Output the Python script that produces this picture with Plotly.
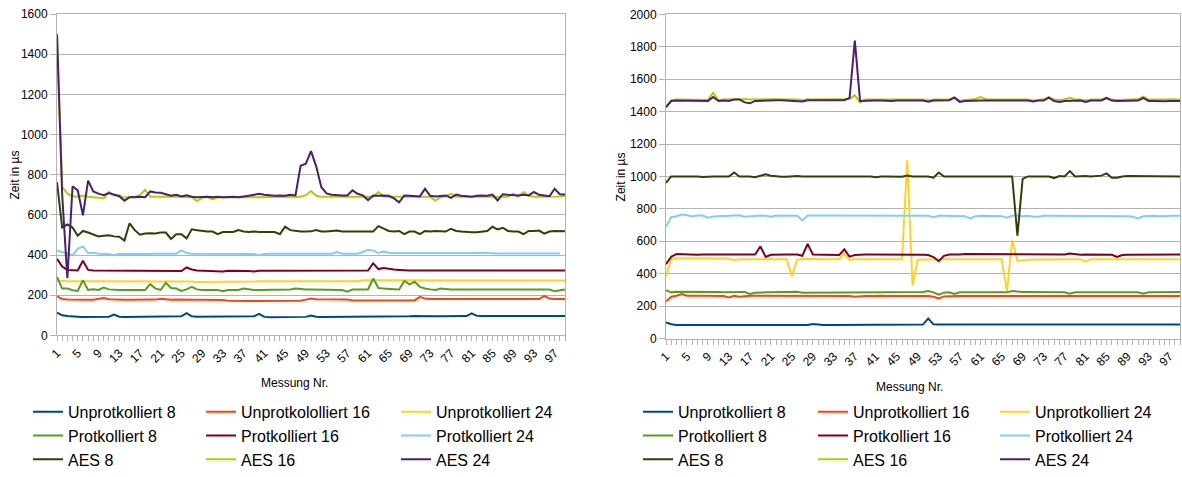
import plotly.graph_objects as go

# ---------------- data ----------------
measurement = list(range(1, 100))
x_tick_labels = list(range(1, 98, 4))

names_left = ["Unprotkolliert 8", "Unprotkololliert 16", "Unprotkolliert 24",
              "Protkolliert 8", "Protkolliert 16", "Protkolliert 24",
              "AES 8", "AES 16", "AES 24"]
names_right = ["Unprotkolliert 8", "Unprotkolliert 16", "Unprotkolliert 24",
               "Protkolliert 8", "Protkolliert 16", "Protkolliert 24",
               "AES 8", "AES 16", "AES 24"]

# left chart
L_U8 = [113, 100, 96, 93, 93, 92, 92, 93, 93, 92,
        93, 104, 93, 92, 92, 93, 93, 93, 93, 93,
        93, 93, 93, 93, 95, 111, 95, 93, 93, 93,
        93, 93, 93, 93, 93, 93, 93, 93, 95, 107,
        92, 90, 90, 90, 90, 90, 90, 90, 92, 99,
        93, 92, 92, 95, 95, 95, 95, 95, 95, 95,
        95, 95, 95, 95, 95, 95, 95, 95, 95, 96,
        95, 95, 95, 95, 95, 95, 95, 95, 95, 96,
        110, 97, 96, 96, 96, 96, 96, 96, 96, 96,
        96, 96, 96, 96, 96, 96, 97, 96, 96]
L_U16 = [194, 181, 178, 177, 177, 177, 177, 177, 180, 186,
         180, 178, 177, 177, 177, 177, 177, 177, 177, 178,
         182, 178, 177, 178, 177, 177, 177, 177, 177, 177,
         177, 177, 176, 172, 171, 171, 171, 171, 171, 171,
         171, 171, 171, 171, 171, 171, 171, 172, 178, 184,
         180, 180, 180, 180, 180, 180, 178, 174, 173, 173,
         173, 173, 173, 173, 173, 173, 173, 173, 173, 174,
         192, 183, 181, 181, 181, 181, 181, 181, 181, 181,
         181, 181, 181, 181, 181, 181, 181, 181, 181, 181,
         181, 181, 181, 181, 197, 183, 181, 181, 181]
L_U24 = [272, 270, 270, 270, 270, 270, 270, 270, 270, 270,
         269, 269, 269, 269, 270, 270, 270, 270, 270, 270,
         270, 270, 270, 270, 270, 270, 268, 266, 266, 266,
         266, 266, 266, 266, 266, 266, 266, 266, 268, 270,
         270, 270, 270, 270, 270, 270, 270, 270, 270, 270,
         270, 270, 270, 270, 270, 270, 270, 270, 270, 274,
         274, 273, 273, 273, 273, 273, 273, 273, 273, 273,
         273, 273, 273, 273, 273, 273, 273, 273, 273, 273,
         273, 273, 274, 273, 273, 273, 273, 273, 273, 273,
         273, 273, 273, 273, 273, 273, 273, 273, 273]
L_P8 = [291, 233, 233, 225, 221, 275, 226, 229, 226, 238,
        229, 226, 226, 226, 226, 226, 226, 226, 255, 233,
        226, 262, 236, 233, 221, 229, 242, 229, 226, 226,
        226, 226, 220, 226, 226, 226, 233, 228, 226, 226,
        226, 226, 226, 226, 226, 228, 233, 230, 229, 229,
        229, 229, 229, 229, 229, 226, 218, 228, 229, 229,
        229, 283, 236, 233, 233, 230, 228, 271, 254, 267,
        241, 233, 229, 226, 233, 230, 229, 229, 229, 229,
        228, 228, 228, 228, 228, 228, 228, 228, 228, 229,
        229, 228, 228, 228, 228, 228, 220, 226, 229]
L_P16 = [381, 343, 326, 323, 323, 372, 326, 323, 323, 323,
         322, 322, 322, 322, 322, 322, 322, 322, 322, 322,
         322, 322, 322, 322, 320, 338, 328, 323, 322, 322,
         322, 322, 318, 322, 322, 322, 322, 320, 318, 322,
         322, 322, 322, 322, 322, 322, 322, 322, 323, 323,
         323, 323, 323, 323, 323, 320, 323, 323, 323, 323,
         323, 359, 330, 335, 330, 328, 326, 323, 323, 323,
         323, 323, 323, 323, 323, 323, 323, 320, 323, 323,
         323, 323, 323, 323, 323, 323, 323, 323, 323, 323,
         323, 323, 323, 323, 323, 323, 323, 323, 323]
L_P24 = [423, 415, 407, 399, 431, 443, 410, 412, 407, 407,
         405, 399, 405, 405, 405, 405, 402, 402, 405, 407,
         407, 407, 407, 407, 423, 410, 407, 407, 407, 407,
         407, 407, 407, 407, 407, 407, 407, 407, 405, 399,
         405, 407, 407, 407, 407, 405, 405, 407, 407, 407,
         407, 407, 407, 407, 415, 407, 407, 407, 407, 415,
         426, 423, 410, 418, 412, 410, 410, 410, 408, 408,
         408, 408, 408, 408, 408, 408, 408, 408, 408, 408,
         410, 410, 412, 410, 408, 408, 408, 408, 408, 408,
         408, 408, 408, 408, 408, 408, 408, 408, None]
L_A8 = [763, 537, 553, 537, 496, 520, 512, 504, 493, 496,
        499, 493, 491, 472, 558, 524, 501, 507, 509, 507,
        512, 512, 480, 504, 504, 483, 528, 524, 520, 517,
        517, 504, 515, 515, 515, 524, 517, 515, 517, 515,
        515, 515, 515, 504, 541, 524, 520, 517, 517, 518,
        524, 517, 517, 518, 522, 517, 517, 517, 517, 520,
        517, 517, 544, 533, 520, 517, 520, 504, 517, 517,
        504, 520, 517, 520, 517, 517, 531, 520, 517, 514,
        514, 514, 517, 520, 541, 528, 536, 520, 517, 517,
        504, 520, 520, 522, 507, 517, 520, 520, 519]
L_A16 = [1500, 740, 706, 693, 690, 696, 690, 686, 685, 682,
         714, 698, 698, 685, 690, 690, 698, 725, 690, 690,
         690, 692, 690, 690, 690, 688, 688, 669, 685, 690,
         677, 687, 688, 688, 688, 688, 688, 688, 688, 690,
         690, 688, 688, 688, 688, 690, 690, 690, 698, 719,
         695, 690, 690, 690, 690, 690, 690, 690, 690, 690,
         690, 690, 714, 692, 690, 690, 690, 690, 690, 690,
         690, 690, 690, 671, 688, 692, 706, 690, 690, 690,
         690, 690, 690, 690, 690, 690, 690, 690, 706, 690,
         714, 695, 690, 690, 692, 690, 690, 692, 695]
L_A24 = [1500, 700, 285, 743, 722, 598, 771, 717, 706, 698,
         709, 700, 693, 670, 688, 688, 690, 688, 717, 712,
         710, 703, 695, 700, 692, 698, 690, 688, 690, 690,
         688, 690, 688, 690, 690, 688, 690, 695, 700, 705,
         700, 698, 695, 697, 695, 700, 697, 845, 855, 918,
         842, 738, 707, 700, 697, 697, 697, 722, 705, 697,
         674, 697, 695, 697, 695, 682, 663, 697, 695, 693,
         692, 730, 695, 692, 695, 697, 685, 701, 695, 692,
         690, 695, 697, 695, 701, 672, 703, 700, 698, 697,
         700, 697, 714, 700, 697, 693, 730, 703, 701]

# right chart
R_U8 = [100, 88, 84, 84, 84, 84, 84, 84, 84, 84,
        84, 84, 84, 84, 84, 84, 84, 84, 84, 84,
        84, 84, 84, 84, 84, 84, 84, 84, 90, 86,
        84, 84, 84, 84, 84, 84, 84, 84, 84, 84,
        84, 84, 84, 84, 84, 84, 84, 84, 84, 86,
        124, 88, 87, 87, 87, 87, 86, 86, 86, 86,
        86, 86, 86, 86, 86, 86, 86, 86, 86, 86,
        86, 86, 86, 86, 86, 86, 86, 86, 86, 86,
        86, 86, 86, 86, 86, 86, 86, 86, 86, 86,
        86, 86, 86, 88, 87, 87, 87, 87, 87]
R_U16 = [228, 258, 264, 274, 264, 266, 264, 264, 264, 264,
         264, 262, 254, 264, 258, 262, 264, 264, 264, 264,
         264, 264, 264, 264, 264, 264, 264, 262, 264, 262,
         262, 264, 262, 262, 264, 262, 258, 262, 262, 262,
         264, 264, 262, 262, 262, 262, 262, 262, 264, 262,
         262, 258, 248, 260, 262, 262, 262, 262, 262, 262,
         262, 260, 262, 262, 262, 262, 262, 262, 262, 262,
         262, 262, 262, 262, 262, 262, 262, 262, 262, 262,
         262, 262, 262, 262, 262, 262, 262, 262, 262, 262,
         262, 262, 262, 262, 262, 262, 262, 262, 262]
R_U24 = [385, 492, 496, 496, 496, 494, 494, 494, 496, 496,
         494, 492, 494, 483, 490, 490, 490, 490, 490, 490,
         490, 490, 490, 490, 385, 486, 490, 492, 492, 490,
         490, 492, 492, 490, 527, 483, 490, 490, 490, 490,
         490, 490, 490, 490, 490, 490, 1100, 328, 486, 488,
         490, 490, 490, 490, 490, 490, 490, 492, 490, 490,
         490, 490, 490, 490, 490, 289, 609, 480, 484, 486,
         488, 488, 488, 488, 490, 490, 490, 490, 490, 490,
         475, 490, 490, 490, 490, 490, 490, 490, 490, 490,
         490, 490, 490, 490, 490, 490, 490, 490, 490]
R_P8 = [298, 285, 289, 289, 289, 289, 291, 291, 289, 287,
        287, 285, 287, 287, 287, 287, 275, 282, 285, 285,
        285, 285, 285, 285, 285, 289, 283, 283, 285, 287,
        285, 287, 285, 285, 287, 285, 287, 285, 285, 285,
        283, 287, 285, 285, 285, 285, 285, 285, 287, 287,
        293, 285, 271, 283, 285, 275, 285, 285, 285, 285,
        285, 285, 285, 285, 285, 285, 293, 289, 287, 287,
        287, 287, 287, 287, 287, 285, 285, 277, 285, 285,
        285, 285, 285, 285, 285, 285, 285, 285, 285, 285,
        285, 277, 285, 285, 285, 283, 285, 287, 287]
R_P16 = [459, 505, 521, 519, 519, 519, 517, 519, 519, 519,
         521, 519, 519, 521, 517, 519, 519, 519, 569, 503,
         517, 519, 519, 519, 519, 519, 511, 584, 519, 519,
         519, 519, 517, 515, 551, 505, 515, 519, 519, 519,
         519, 519, 519, 519, 521, 519, 519, 521, 519, 517,
         515, 503, 477, 510, 519, 517, 519, 521, 521, 521,
         521, 521, 519, 519, 519, 519, 519, 519, 519, 519,
         517, 519, 519, 521, 517, 519, 519, 525, 519, 517,
         519, 519, 519, 519, 519, 517, 503, 515, 517, 517,
         517, 517, 517, 517, 519, 519, 519, 519, 519]
R_P24 = [689, 749, 755, 765, 761, 755, 759, 759, 745, 753,
         755, 757, 759, 759, 761, 751, 753, 759, 759, 757,
         751, 759, 759, 759, 759, 757, 729, 759, 759, 759,
         759, 759, 759, 759, 759, 759, 759, 759, 757, 757,
         757, 757, 757, 757, 757, 755, 759, 759, 759, 757,
         757, 749, 757, 757, 757, 757, 757, 755, 741, 755,
         757, 757, 757, 757, 755, 745, 757, 759, 755, 757,
         751, 751, 757, 757, 757, 757, 757, 757, 757, 757,
         757, 757, 757, 757, 757, 757, 757, 757, 755, 751,
         741, 755, 757, 757, 755, 757, 757, 757, 757]
R_A8 = [960, 1000, 1000, 1000, 1000, 1002, 1000, 997, 1000, 1000,
        1000, 1000, 1000, 1024, 1000, 1000, 1000, 995, 1005, 1013,
        1005, 1000, 998, 998, 1002, 1002, 1000, 1000, 1002, 1000,
        1000, 1002, 1000, 1000, 1002, 1003, 1002, 1000, 1000, 1000,
        995, 1000, 1000, 1000, 1000, 998, 1005, 1000, 1000, 1000,
        1000, 992, 1024, 1000, 1000, 1000, 1000, 1002, 1000, 1000,
        1000, 1000, 1002, 1000, 1000, 1000, 1000, 635, 985, 1000,
        1000, 1000, 1000, 1000, 990, 1002, 1000, 1033, 1000, 1002,
        1002, 1000, 1002, 1005, 1019, 992, 992, 1000, 1002, 1002,
        1002, 1000, 1000, 1000, 1000, 1000, 1000, 1000, 1000]
R_A16 = [1425, 1470, 1474, 1474, 1475, 1475, 1474, 1474, 1472, 1517,
         1470, 1474, 1475, 1477, 1477, 1477, 1475, 1474, 1475, 1476,
         1476, 1476, 1476, 1474, 1474, 1474, 1470, 1476, 1475, 1474,
         1475, 1476, 1476, 1475, 1477, 1477, 1501, 1457, 1474, 1474,
         1474, 1474, 1474, 1472, 1474, 1474, 1475, 1475, 1476, 1474,
         1468, 1474, 1474, 1475, 1475, 1489, 1466, 1472, 1476, 1478,
         1489, 1476, 1474, 1474, 1474, 1474, 1474, 1474, 1474, 1474,
         1468, 1474, 1476, 1490, 1474, 1472, 1476, 1485, 1474, 1474,
         1468, 1474, 1474, 1476, 1485, 1474, 1472, 1474, 1474, 1474,
         1476, 1492, 1474, 1474, 1472, 1474, 1476, 1476, 1474]
R_A24 = [1428, 1465, 1468, 1468, 1470, 1470, 1468, 1468, 1466, 1490,
         1465, 1468, 1466, 1475, 1475, 1457, 1451, 1466, 1468, 1470,
         1470, 1470, 1470, 1468, 1468, 1468, 1462, 1470, 1470, 1468,
         1468, 1468, 1470, 1470, 1470, 1485, 1838, 1466, 1468, 1468,
         1468, 1468, 1466, 1466, 1468, 1468, 1468, 1468, 1472, 1468,
         1461, 1468, 1468, 1468, 1470, 1486, 1460, 1466, 1468, 1468,
         1468, 1468, 1468, 1468, 1468, 1468, 1468, 1468, 1468, 1468,
         1462, 1468, 1468, 1486, 1465, 1460, 1466, 1468, 1468, 1468,
         1460, 1468, 1468, 1468, 1484, 1468, 1466, 1466, 1468, 1468,
         1468, 1484, 1466, 1466, 1464, 1464, 1466, 1466, 1466]

left_series = [L_U8, L_U16, L_U24, L_P8, L_P16, L_P24, L_A8, L_A16, L_A24]
right_series = [R_U8, R_U16, R_U24, R_P8, R_P16, R_P24, R_A8, R_A16, R_A24]
for s in left_series + right_series:
    assert len(s) == 99, len(s)

colors = ["#004586", "#ff420e", "#ffd320", "#579d1c", "#7e0021",
          "#83caff", "#314004", "#aecf00", "#4b1f6f"]

# ---------------- layout helpers ----------------
# positions are given in reference-image pixels (1182 x 477) and turned into
# paper fractions; the figure fills the browser window.
W, H = 1182, 477
FONT = "Liberation Sans"


def px(v):
    return v / W


def py(v):
    return 1 - v / H


fig = go.Figure()

for k, (name, ys) in enumerate(zip(names_left, left_series)):
    fig.add_trace(go.Scatter(
        x=measurement, y=ys, name=name, mode="lines",
        line=dict(color=colors[k], width=2),
        xaxis="x", yaxis="y",
        legend=["legend", "legend2", "legend3"][k % 3],
    ))

for k, (name, ys) in enumerate(zip(names_right, right_series)):
    fig.add_trace(go.Scatter(
        x=measurement, y=ys, name=name, mode="lines",
        line=dict(color=colors[k], width=2),
        xaxis="x2", yaxis="y2",
        legend=["legend4", "legend5", "legend6"][k % 3],
    ))

grid = "#b3b3b3"
tickfont = dict(family=FONT, size=12, color="#000000")

xcommon = dict(
    range=[1, 99], tickmode="array", tickvals=x_tick_labels,
    ticktext=[str(v) for v in x_tick_labels], tickangle=-45,
    ticks="outside", ticklen=5, tickcolor=grid, tickwidth=1,
    showline=True, linecolor=grid, linewidth=1, mirror=True,
    showgrid=False, zeroline=False, tickfont=tickfont, automargin=False,
    minor=dict(ticks="outside", ticklen=5, tickcolor=grid, tickwidth=1,
               tickmode="linear", tick0=1, dtick=1, showgrid=False),
)
ycommon = dict(
    tickmode="linear", tick0=0, dtick=200,
    ticks="outside", ticklen=6, tickcolor=grid, tickwidth=1,
    showline=True, linecolor=grid, linewidth=1, mirror=True,
    showgrid=True, gridcolor=grid, gridwidth=1, zeroline=False,
    tickfont=tickfont, automargin=False,
)

fig.update_layout(
    autosize=True,
    margin=dict(l=0, r=0, t=0, b=0),
    paper_bgcolor="white", plot_bgcolor="white",
    font=dict(family=FONT, color="#000000"),
    xaxis=dict(domain=[px(57), px(565)], anchor="y", **xcommon),
    yaxis=dict(domain=[py(344), py(14.5)], anchor="x", range=[0, 1600], **ycommon),
    xaxis2=dict(domain=[px(666), px(1180)], anchor="y2", **xcommon),
    yaxis2=dict(domain=[py(347.3), py(14.7)], anchor="x2", range=[0, 2000], **ycommon),
    hovermode=False,
)

legend_font = dict(family=FONT, size=16, color="#000000")
legend_x = {"legend": 28, "legend2": 201, "legend3": 396,
            "legend4": 638, "legend5": 813, "legend6": 995}
for key, lx in legend_x.items():
    fig.update_layout({key: dict(
        x=px(lx), y=py(405), xanchor="left", yanchor="top",
        orientation="v", font=legend_font, bgcolor="rgba(0,0,0,0)",
        borderwidth=0, tracegroupgap=0, itemwidth=30,
    )})

title_font = dict(family=FONT, size=12, color="#000000")
fig.add_annotation(text="Messung Nr.", xref="paper", yref="paper",
                   x=px(294), y=py(393), showarrow=False, font=title_font,
                   xanchor="center", yanchor="middle")
fig.add_annotation(text="Messung Nr.", xref="paper", yref="paper",
                   x=px(909), y=py(397), showarrow=False, font=title_font,
                   xanchor="center", yanchor="middle")
fig.add_annotation(text="Zeit in µs", xref="paper", yref="paper",
                   x=px(15), y=py(180), showarrow=False, font=title_font,
                   textangle=-90, xanchor="center", yanchor="middle")
fig.add_annotation(text="Zeit in µs", xref="paper", yref="paper",
                   x=px(621), y=py(182), showarrow=False, font=title_font,
                   textangle=-90, xanchor="center", yanchor="middle")

# figure fills the browser window; the default 8px page margin is removed
fig.write_html("out.html",
               default_width="100vw", default_height="100vh",
               config={"displayModeBar": False},
               post_script="document.body.style.margin='0';"
                           "document.documentElement.style.overflow='hidden';")
